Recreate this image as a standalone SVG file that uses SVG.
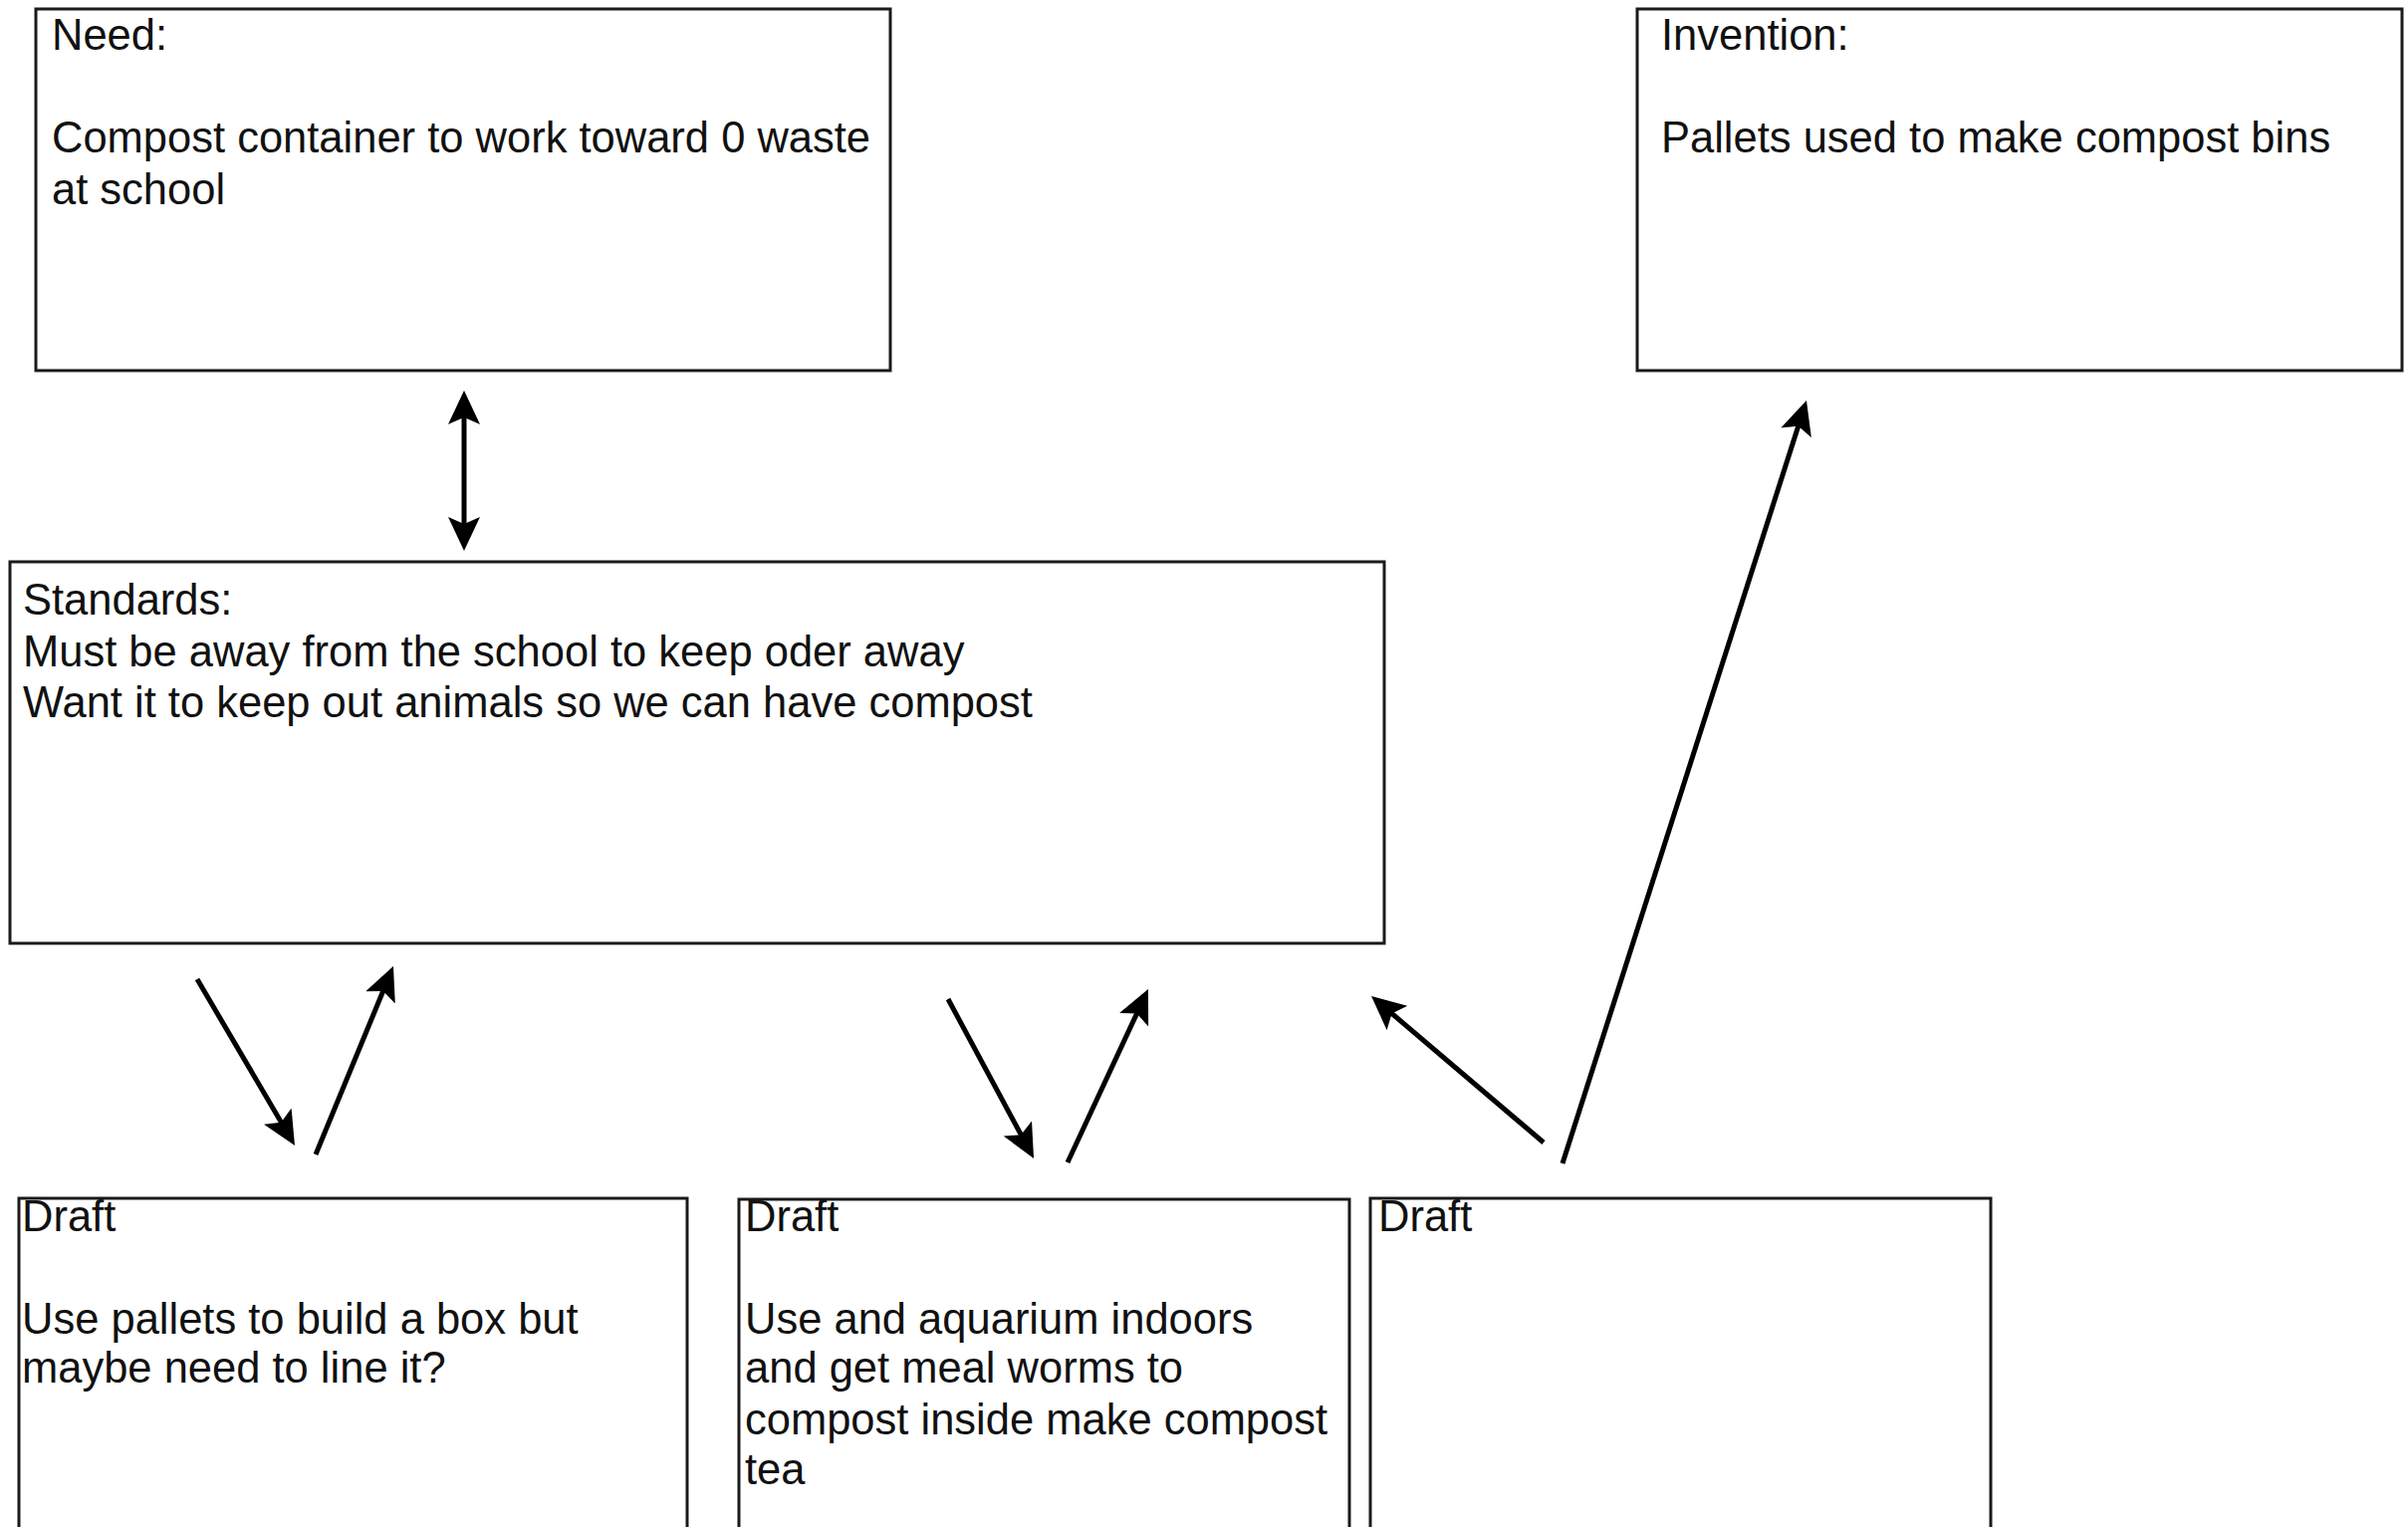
<svg xmlns="http://www.w3.org/2000/svg" width="2418" height="1533" viewBox="0 0 2418 1533">
<style>
.box{fill:#ffffff;stroke:#1a1a1a;stroke-width:3}
.t{font-family:"Liberation Sans",Arial,Helvetica,sans-serif;font-size:43.5px;fill:#111}
.c{stroke:#000;stroke-width:5;fill:none;marker-end:url(#ah)}
</style>
<defs>
<marker id="ah" viewBox="0 0 34 32" markerWidth="34" markerHeight="32" refX="17" refY="16" orient="auto-start-reverse" markerUnits="userSpaceOnUse">
<path d="M0,0 L34,16 L0,32 L7,16 z" fill="#000"/>
</marker>
</defs>
<rect width="2418" height="1533" fill="#ffffff"/>
<g id="need">
<rect class="box" x="36" y="9" width="858" height="363"/>
<text class="t" x="52" y="50">Need:</text>
<text class="t" x="52" y="153">Compost container to work toward 0 waste</text>
<text class="t" x="52" y="205">at school</text>
</g>
<g id="invention">
<rect class="box" x="1644" y="9" width="768" height="363"/>
<text class="t" x="1668" y="50">Invention:</text>
<text class="t" x="1668" y="153">Pallets used to make compost bins</text>
</g>
<g id="standards">
<rect class="box" x="10" y="564" width="1380" height="383"/>
<text class="t" x="23" y="617">Standards:</text>
<text class="t" x="23" y="669">Must be away from the school to keep oder away</text>
<text class="t" x="23" y="720">Want it to keep out animals so we can have compost</text>
</g>
<g id="draft1">
<rect class="box" x="19" y="1203" width="671" height="400"/>
<text class="t" x="22" y="1236">Draft</text>
<text class="t" x="22" y="1339">Use pallets to build a box but</text>
<text class="t" x="22" y="1388">maybe need to line it?</text>
</g>
<g id="draft2">
<rect class="box" x="742" y="1204" width="613" height="400"/>
<text class="t" x="748" y="1236">Draft</text>
<text class="t" x="748" y="1339">Use and aquarium indoors</text>
<text class="t" x="748" y="1388">and get meal worms to</text>
<text class="t" x="748" y="1440">compost inside make compost</text>
<text class="t" x="748" y="1490">tea</text>
</g>
<g id="draft3">
<rect class="box" x="1376" y="1203" width="623" height="400"/>
<text class="t" x="1384" y="1236">Draft</text>
</g>
<g id="connectors">
<line class="c" x1="466" y1="409" x2="466" y2="536" style="marker-start:url(#ah)"/>
<line class="c" x1="198" y1="983" x2="287.4" y2="1135.3"/>
<line class="c" x1="317" y1="1159" x2="388.5" y2="985.7"/>
<line class="c" x1="952" y1="1003" x2="1030" y2="1148"/>
<line class="c" x1="1072" y1="1167" x2="1145.8" y2="1008.4"/>
<line class="c" x1="1550" y1="1147" x2="1390" y2="1011"/>
<line class="c" x1="1569" y1="1168" x2="1808.8" y2="418.2"/>
</g>
</svg>
